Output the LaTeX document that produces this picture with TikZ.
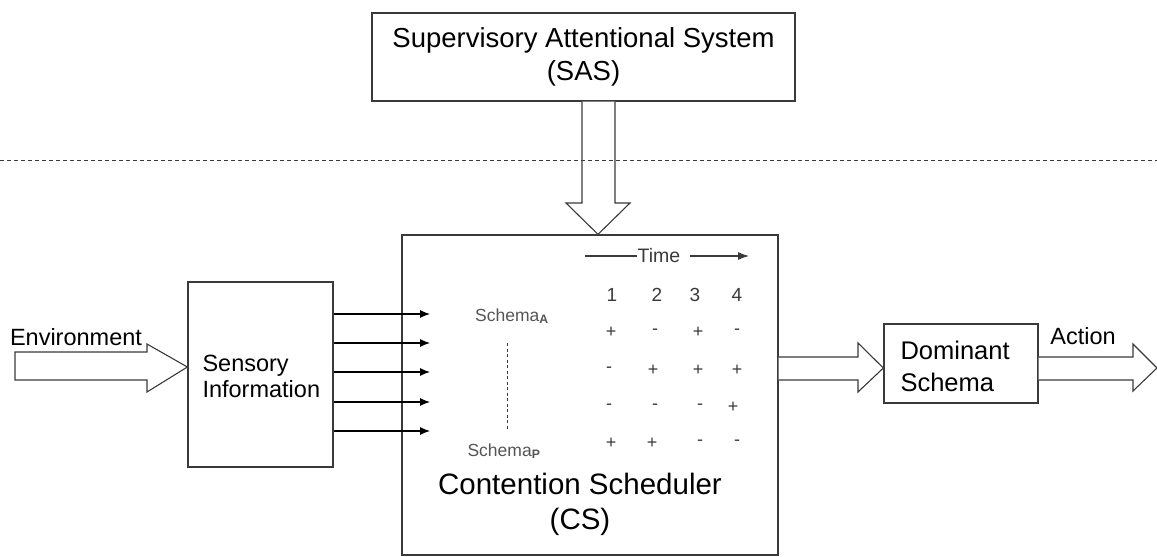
\documentclass[tikz,border=0pt]{standalone}
\usepackage{fontspec}
\setmainfont{Liberation Sans}
\usetikzlibrary{arrows.meta,calc}
\definecolor{ln}{HTML}{3A3A3A}
\definecolor{sch}{HTML}{555555}
\tikzset{
  box/.style={draw=ln, line width=1.3pt, inner sep=0pt},
  hollow/.style={draw=ln, line width=1.1pt, fill=white, line join=miter},
  thin/.style={draw=black, line width=1.1pt, -{Latex[length=10pt,width=8pt]}},
  pm/.style={font=\fontsize{18}{18}\selectfont, text=ln},
  num/.style={font=\fontsize{19}{19}\selectfont, text=ln},
}
\begin{document}
\begin{tikzpicture}[x=1pt,y=-1pt]
\useasboundingbox (0,0) rectangle (1157,557);
% boxes
\node[box, minimum width=423pt, minimum height=88pt] (sas) at (583.5,57) {};
\node[font=\fontsize{27.5}{33}\selectfont, align=center] (sast) at (583.5,57) {Supervisory Attentional System\\(SAS)};
\node[box, minimum width=376pt, minimum height=320pt] (cs) at (590,395) {};
\node[box, minimum width=145pt, minimum height=185pt] (si) at (260.5,374.5) {};
\node[box, minimum width=154pt, minimum height=79pt] (ds) at (961,363.5) {};
% texts
\node[font=\fontsize{23.5}{26}\selectfont, align=left, anchor=west] (sit) at (199,376) {Sensory\\Information};
\node[font=\fontsize{25.5}{32}\selectfont, align=left, anchor=west] (dst) at (897,366) {Dominant\\Schema};
\node[font=\fontsize{29.5}{35}\selectfont, align=center] (cst) at (580,504) {Contention Scheduler\\(CS)};
\node[font=\fontsize{23.5}{26}\selectfont] (env) at (76,337) {Environment};
\node[font=\fontsize{23.5}{26}\selectfont] (act) at (1083,336) {Action};
% SAS -> CS hollow arrow
\draw[hollow] (sas.south -| 582,0) -- (582,203) -- (566,203) -- (cs.north -| 598,0) -- (630,203) -- (615,203) -- (sas.south -| 615,0);
% dashed divider
\draw[ln, line width=0.9pt, dash pattern=on 4pt off 3pt] (0,160) -- (1157,160);
% Environment hollow arrow
\draw[hollow] (15,352) -- (147,352) -- (147,344) -- (si.west |- 0,367) -- (147,392) -- (147,380) -- (15,380) -- cycle;
% CS -> Dominant
\draw[hollow] (cs.east |- 0,357) -- (858,357) -- (858,343) -- (ds.west |- 0,368) -- (858,392) -- (858,380) -- (cs.east |- 0,380);
% Action
\coordinate (acttip) at (1157,368);
\draw[hollow] (ds.east |- 0,357) -- (1133,357) -- (1133,344) -- (acttip) -- (1133,391) -- (1133,380) -- (ds.east |- 0,380);
% small arrows
\foreach \y [count=\i] in {314,343,372,402,431}{
  \coordinate (e\i) at (430,\y);
  \draw[thin] (si.east |- 0,\y) -- (e\i);
}
% time
\node[font=\fontsize{19.5}{20}\selectfont, text=ln, inner sep=1pt] (time) at (659,256) {Time};
\coordinate (t0) at (585,256);
\coordinate (t1) at (749,256);
\draw[ln, line width=1.1pt] (t0) -- (time.west);
\draw[ln, line width=1.1pt, -{Latex[length=11pt,width=8pt]}] (690,256) -- (t1);
% numbers
\node[num] (n1) at (612,295) {1};
\node[num] (n2) at (657,295) {2};
\node[num] (n3) at (695,295) {3};
\node[num] (n4) at (737,295) {4};
% schemas
\node[font=\fontsize{17.5}{18}\selectfont, text=sch] (sa) at (512,316) {Schema\textsubscript{\textbf{A}}};
\node[font=\fontsize{17.5}{18}\selectfont, text=sch] (sp) at (504,451) {Schema\textsubscript{\textbf{P}}};
\draw[ln, line width=1pt, dash pattern=on 3pt off 2.5pt] (507,343) -- (507,430);
% plus/minus grid
\node[pm] (r1c1) at (611,332) {+};
\node[pm] (r1c2) at (655,332) {-};
\node[pm] (r1c3) at (698,332) {+};
\node[pm] (r1c4) at (737,332) {-};
\node[pm] (r2c1) at (609,370) {-};
\node[pm] (r2c2) at (653,370) {+};
\node[pm] (r2c3) at (698,370) {+};
\node[pm] (r2c4) at (737,370) {+};
\node[pm] (r3c1) at (609,407) {-};
\node[pm] (r3c2) at (655,407) {-};
\node[pm] (r3c3) at (700,407) {-};
\node[pm] (r3c4) at (733,407) {+};
\node[pm] (r4c1) at (611,443) {+};
\node[pm] (r4c2) at (652,443) {+};
\node[pm] (r4c3) at (700,443) {-};
\node[pm] (r4c4) at (737,443) {-};
\end{tikzpicture}
\end{document}
